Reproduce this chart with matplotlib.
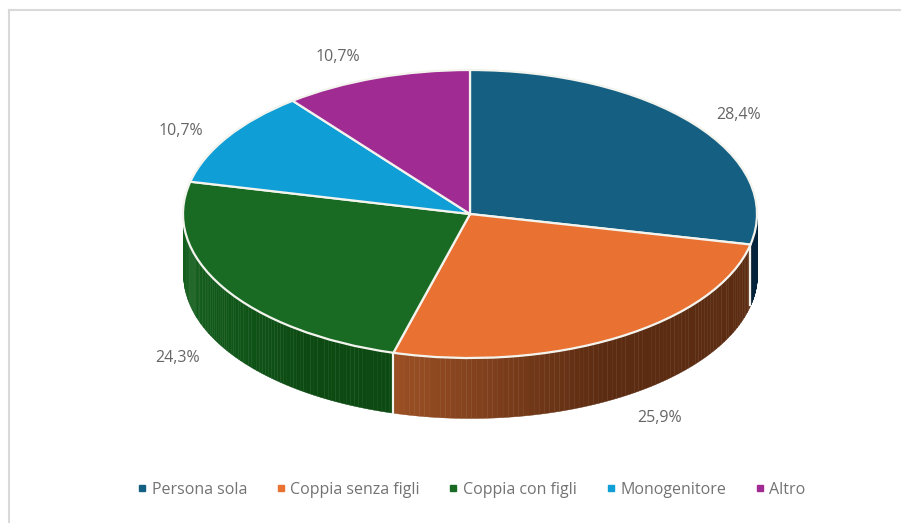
import numpy as np
import matplotlib
matplotlib.use("Agg")
import matplotlib.pyplot as plt
from matplotlib.colors import to_rgb
from matplotlib.lines import Line2D

categories = ["Persona sola", "Coppia senza figli", "Coppia con figli", "Monogenitore", "Altro"]
values = [28.4, 25.9, 24.3, 10.8, 10.6]
value_labels = ["28,4%", "25,9%", "24,3%", "10,7%", "10,7%"]
colors = ["#156082", "#E97132", "#196B24", "#0F9ED5", "#A02B93"]
wall_left = ["#04233A", "#9C5024", "#135E1D", "#0F9ED5", "#A02B93"]
wall_right = ["#04233A", "#5C2C12", "#0C4A12", "#0F9ED5", "#A02B93"]
label_pos = [(739, 115), (660, 418), (178, 358), (181, 131), (338, 57)]

W, H = 901, 523
cx, cy, rx, ry, depth = 470, 214, 287, 144, 60


def px(x, y):
    return (x - cx) / rx, (cy - y) / ry


plt.rcParams["font.family"] = ["Open Sans", "DejaVu Sans"]
fig = plt.figure(figsize=(W / 100, H / 100), dpi=100, facecolor="w")
ax = fig.add_axes([0, 0, 1, 1])

ax.pie(values, colors=colors, startangle=90, counterclock=False,
       wedgeprops=dict(edgecolor="#f4f4ee", linewidth=1.6), radius=1)
ax.set_aspect("auto")
ax.set_xlim(px(0, 0)[0], px(W, 0)[0])
ax.set_ylim(px(0, H)[1], px(0, 0)[1])

# side wall, only the front half of the disc shows
edges = np.concatenate([[0], np.cumsum(values)]) / np.sum(values) * 360
d = depth / ry
for i in range(len(values)):
    start, stop = max(edges[i], 90), min(edges[i + 1], 270)
    if start >= stop:
        continue
    t = np.radians(np.linspace(start, stop, 90))
    c0, c1 = np.array(to_rgb(wall_left[i])), np.array(to_rgb(wall_right[i]))
    x = np.sin(t)
    y = np.cos(t)
    xl, xr = x.min(), x.max()
    for j in range(len(t) - 1):
        k = np.clip((x[j] - xl) / (xr - xl) * 1.7, 0, 1)
        ax.fill_between(x[j:j + 2], y[j:j + 2], y[j:j + 2] - d, color=c0 + (c1 - c0) * k,
                        linewidth=0.3, zorder=0.5)
    # white seam where the slice starts
    if edges[i] >= 90:
        ax.plot([x[0], x[0]], [y[0], y[0] - d], color="#f4f4ee", lw=1.6, zorder=0.6)

for lab, (lx, ly) in zip(value_labels, label_pos):
    ax.text(*px(lx, ly), lab, ha="center", va="center", fontsize=11.5, color="#666666")

handles = [Line2D([], [], ls="", marker="s", ms=4.5, color=c) for c in colors]
fig.legend(handles, categories, loc="center", bbox_to_anchor=(469 / W, 1 - 490 / H), ncol=5,
           frameon=False, fontsize=11.5, labelcolor="#737373", handletextpad=0.0,
           columnspacing=1.5, handlelength=1.2)

# chart frame, top and left only
fig.add_artist(Line2D([9 / W, 1], [1 - 10 / H, 1 - 10 / H], color="#d9d9d9", lw=1.5))
fig.add_artist(Line2D([9 / W, 9 / W], [1 - 10 / H, 0], color="#d9d9d9", lw=1.5))

plt.savefig("out.png", dpi=100)
